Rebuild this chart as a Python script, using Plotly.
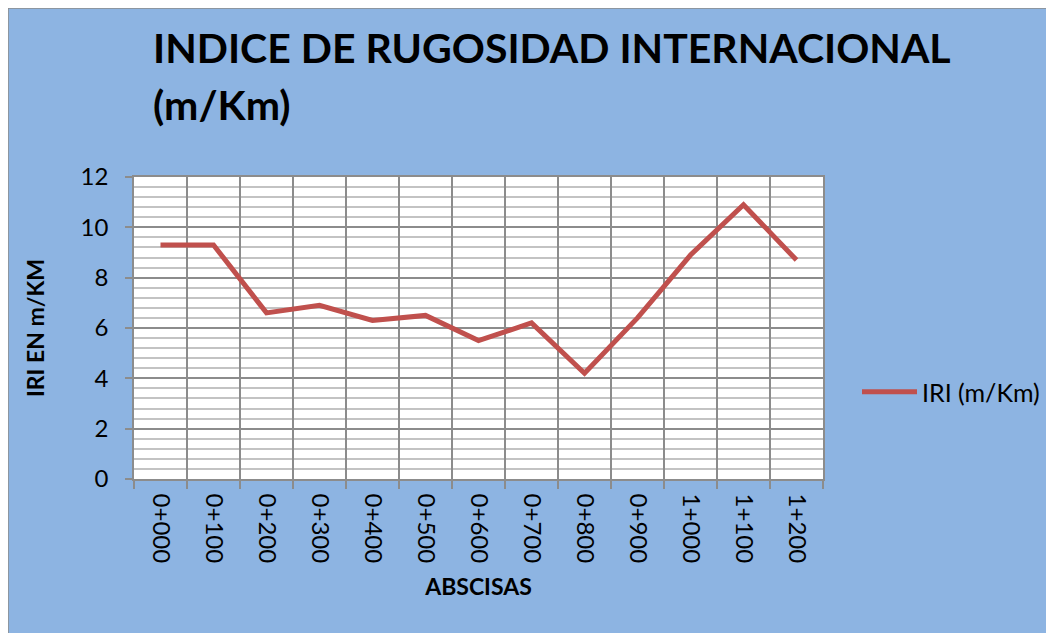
import plotly.graph_objects as go

# abscisas (estaciones) y valores del IRI
abscisas = ['0+000', '0+100', '0+200', '0+300', '0+400', '0+500', '0+600',
            '0+700', '0+800', '0+900', '1+000', '1+100', '1+200']
iri = [9.3, 9.3, 6.6, 6.9, 6.3, 6.5, 5.5, 6.2, 4.2, 6.4, 8.9, 10.9, 8.7]

fondo = '#8DB4E2'
gris = '#8C8C8C'
fuente = 'Lato'

# la página deja 8 px de margen; coordenadas en píxeles de la figura
OFF = 8
L, R, T, B = 134 - OFF, 823 - OFF, 177 - OFF, 479 - OFF
W, H = R - L, B - T


def px(x):
    return (x - OFF - L) / W


def py(y):
    return (B - (y - OFF)) / H


fig = go.Figure()

fig.add_trace(go.Scatter(
    x=abscisas,
    y=iri,
    mode='lines',
    name='IRI (m/Km)',
    line=dict(color='#C0504D', width=5),
))

fig.update_layout(
    width=1054,
    height=633,
    paper_bgcolor=fondo,
    plot_bgcolor='white',
    margin=dict(l=L, r=1054 - R, t=T, b=633 - B),
    font=dict(family=fuente, color='black', size=24),
    showlegend=True,
    legend=dict(
        x=px(857), y=py(392), xanchor='left', yanchor='middle',
        bgcolor='rgba(0,0,0,0)', font=dict(size=25), itemwidth=55,
    ),
    annotations=[
        dict(text='<b>INDICE DE RUGOSIDAD INTERNACIONAL</b>',
             xref='paper', yref='paper', x=px(151), y=py(47),
             xanchor='left', yanchor='middle', showarrow=False,
             font=dict(size=41)),
        dict(text='<b>(m/Km)</b>',
             xref='paper', yref='paper', x=px(151), y=py(104),
             xanchor='left', yanchor='middle', showarrow=False,
             font=dict(size=41)),
    ],
    shapes=[
        dict(type='rect', xref='paper', yref='paper',
             x0=px(OFF), x1=px(1100), y0=py(700), y1=py(OFF),
             line=dict(color=gris, width=1.5), fillcolor='rgba(0,0,0,0)',
             layer='above'),
    ],
)

fig.update_xaxes(
    type='category',
    range=[-0.5, len(abscisas) - 0.5],
    tickson='boundaries',
    tickangle=90,
    ticks='outside', ticklen=8, tickcolor=gris, tickwidth=1.5,
    ticklabelstandoff=8,
    showgrid=True, gridcolor=gris, gridwidth=1.5,
    showline=True, linecolor=gris, linewidth=1.5,
    mirror=True,
    title=dict(text='<b>ABSCISAS</b>', font=dict(size=23), standoff=17),
)

fig.update_yaxes(
    range=[0, 12], dtick=2,
    ticks='outside', ticklen=7, tickcolor=gris, tickwidth=1.5,
    ticklabelstandoff=12,
    showgrid=True, gridcolor=gris, gridwidth=1.5,
    minor=dict(dtick=0.4, showgrid=True, gridcolor='#C3C3C3', gridwidth=1.8),
    showline=True, linecolor=gris, linewidth=1.5,
    mirror=True,
    zeroline=False,
    title=dict(text='<b>IRI EN m/KM</b>', font=dict(size=23), standoff=30),
)

fig.write_html('out.html')
